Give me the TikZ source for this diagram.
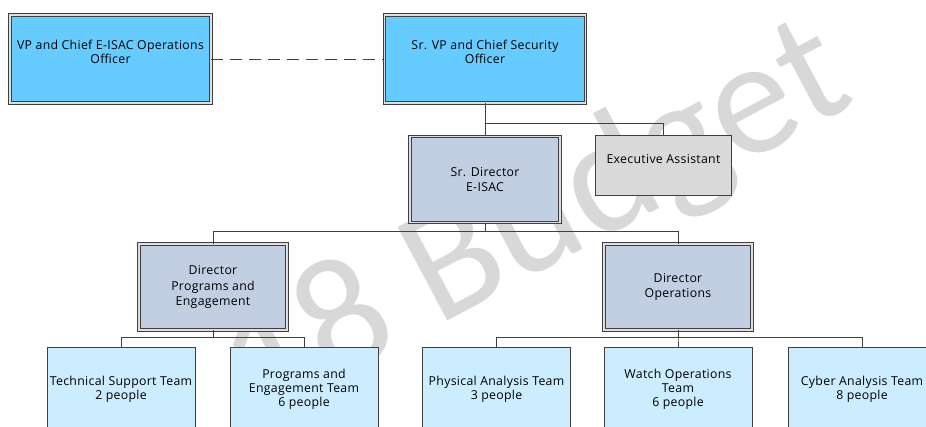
\documentclass[tikz,border=0pt]{standalone}
\usepackage{fontspec}
\setmainfont[LetterSpace=2.5]{Open Sans}
\newfontfamily\wmfont{Carlito}
\usetikzlibrary{calc}
\definecolor{boxline}{HTML}{404040}
\definecolor{chiefblue}{HTML}{66CCFF}
\definecolor{dirblue}{HTML}{C2CFE3}
\definecolor{teamblue}{HTML}{CCECFF}
\definecolor{asstgray}{HTML}{D9D9D9}
\definecolor{wmgray}{HTML}{D8D8D8}

\begin{document}
\begin{tikzpicture}[x=1pt,y=-1pt,font=\fontsize{12.3}{14}\selectfont]
 \tikzstyle{twoline} = [draw=boxline,double=white!75!gray,double distance=1.5pt,line width=0.9pt,align=center,inner sep=0pt]
 \tikzstyle{chiefnode} = [twoline,fill=chiefblue,minimum width=201pt,minimum height=88pt]
 \tikzstyle{dirnode} = [twoline,fill=dirblue,minimum width=148pt,minimum height=86pt,font=\fontsize{12.3}{15.5}\selectfont]
 \tikzstyle{teamnode} = [draw=boxline,line width=0.9pt,fill=teamblue,align=center,inner sep=0pt,minimum width=148pt,minimum height=84pt]
 \tikzstyle{asstnode} = [draw=boxline,line width=0.9pt,fill=asstgray,align=center,inner sep=0pt,minimum width=136pt,minimum height=60pt]
 \tikzstyle{link} = [draw=boxline,line width=1pt]
 \tikzstyle{dotline} = [link,dash pattern=on 12pt off 7pt]
 \tikzstyle{wmark} = [wmgray,font=\wmfont\fontsize{165}{165}\selectfont,rotate=28,anchor=base east,inner sep=0pt]

 \useasboundingbox (0,0) rectangle (926,426);
 \clip (0,0) rectangle (926,426);

% Watermark (behind the chart)
 \node[wmark] (wm) at (858,103) {18 Budget};

% Top row
 \node[chiefnode] (vp) at (110.5,59) {VP and Chief E-ISAC Operations\\Officer\\\mbox{}};
 \node[chiefnode] (svp) at (485,59) {Sr. VP and Chief Security\\Officer\\\mbox{}};
 \draw[dotline] (vp) -- (svp);

% Second row
 \node[dirnode,minimum width=150pt] (srdir) at (485,179.5) {Sr. Director\\E-ISAC};
 \node[asstnode] (ea) at (663.5,165.5) {Executive Assistant\\\mbox{}};
 \draw[link] (svp.south) -- (srdir.north);
 \draw[link] (svp.south) -- ++(0,20) -| (ea.north);

% Directors
 \node[dirnode] (dpe) at (213,287) {Director\\Programs and\\Engagement};
 \node[dirnode] (dops) at (678,287) {Director\\Operations};
 \draw[link] (srdir.south) -- ++(0,9) -| (dpe.north);
 \draw[link] (srdir.south) -- ++(0,9) -| (dops.north);

% Teams
 \node[teamnode] (tech) at (121,389) {Technical Support Team\\2 people};
 \node[teamnode] (prog) at (304,389) {Programs and\\Engagement Team\\6 people};
 \node[teamnode] (phys) at (496.5,389) {Physical Analysis Team\\3 people};
 \node[teamnode] (watch) at (678,389) {Watch Operations\\Team\\6 people};
 \node[teamnode] (cyber) at (862,389) {Cyber Analysis Team\\8 people};
 \draw[link] (dpe.south) -- ++(0,7) -| (tech.north);
 \draw[link] (dpe.south) -- ++(0,7) -| (prog.north);
 \draw[link] (dops.south) -- ++(0,7) -| (phys.north);
 \draw[link] (dops.south) -- ++(0,7) -| (watch.north);
 \draw[link] (dops.south) -- ++(0,7) -| (cyber.north);
\end{tikzpicture}
\end{document}
